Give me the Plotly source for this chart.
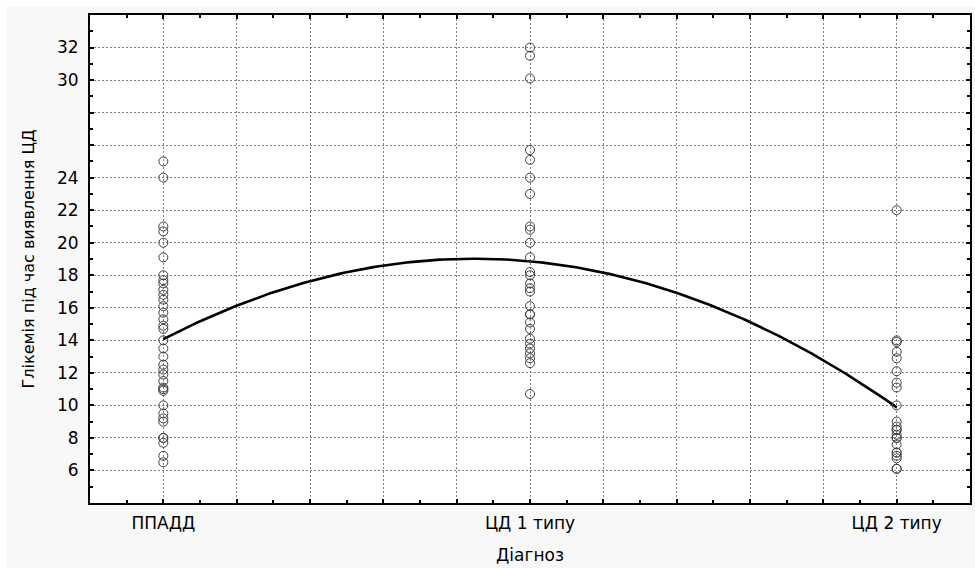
import numpy as np
import plotly.graph_objects as go

# Data
categories = ["ППАДД", "ЦД 1 типу", "ЦД 2 типу"]
cat_pos = [1, 2, 3]

ppadd = [25, 24, 21, 20.7, 20, 19.1, 18, 17.7, 17.5, 17.1, 16.8, 16.5, 16.1, 15.7,
         15.3, 14.9, 14.7, 14, 13.5, 13, 12.5, 12.2, 11.9, 11.5, 11.1, 11.0, 10.9, 10,
         9.5, 9.2, 9, 8, 8.0, 7.7, 6.9, 6.5]
cd1 = [32, 31.5, 30.1, 25.7, 25.1, 24, 23, 21, 20.8, 20, 19.1, 18.2, 18.0, 17.5,
       17.2, 17.0, 16.1, 15.6, 15.6, 15.1, 14.7, 14.1, 13.8, 13.5, 13.2, 12.9, 12.6, 10.7]
cd2 = [22, 14.0, 13.9, 13.3, 12.9, 12.1, 11.4, 11.1, 10.0, 9.0, 8.7, 8.5, 8.5, 8.2,
       8.0, 8.0, 7.6, 7.1, 7.1, 6.9, 6.75, 6.1, 6.1]

y_tick_vals = [6, 8, 10, 12, 14, 16, 18, 20, 22, 24, 26, 28, 30, 32]
y_tick_text = ["6", "8", "10", "12", "14", "16", "18", "20", "22", "24", "", "", "30", "32"]
x_grid_vals = [0.8, 1.0, 1.2, 1.4, 1.6, 1.8, 2.0, 2.2, 2.4, 2.6, 2.8, 3.0, 3.2]
x_tick_text = ["", "ППАДД", "", "", "", "", "ЦД 1 типу", "", "", "", "", "ЦД 2 типу", ""]

groups = [ppadd, cd1, cd2]
xs = np.concatenate([[p] * len(g) for p, g in zip(cat_pos, groups)])
ys = np.concatenate(groups)

# Quadratic least-squares fit (as in the original)
coef = np.polyfit(xs, ys, 2)
xf = np.linspace(1, 3, 200)
yf = np.polyval(coef, xf)

FONT = "DejaVu Sans, Verdana, sans-serif"

fig = go.Figure()
fig.add_trace(go.Scatter(x=xf, y=yf, mode="lines",
                         line=dict(color="black", width=2.6), hoverinfo="skip",
                         showlegend=False))
fig.add_trace(go.Scatter(x=xs, y=ys, mode="markers",
                         marker=dict(symbol="circle-open", size=9, color="#404040",
                                     line=dict(width=1, color="#404040")),
                         showlegend=False))

W, H = 975, 568
L, R, T, B = 90, 5, 15, 65
pw, ph = W - L - R, H - T - B
fig.update_layout(
    width=W, height=H,
    margin=dict(l=L, r=R, t=T, b=B, autoexpand=False),
    paper_bgcolor="white",
    plot_bgcolor="white",
    font=dict(family=FONT, size=16, color="black"),
    shapes=[
        dict(type="rect", xref="paper", yref="paper", layer="below",
             x0=(7 - L) / pw, x1=(W - L) / pw, y0=-B / ph, y1=(H - 7 - B) / ph,
             line=dict(width=0), fillcolor="#f8f8f8"),
        dict(type="rect", xref="paper", yref="paper", layer="below",
             x0=0, x1=1, y0=0, y1=1, line=dict(width=0), fillcolor="white"),
    ],
)
fig.update_xaxes(
    range=[0.8, 3.2], tickmode="array", tickvals=x_grid_vals, ticktext=x_tick_text,
    ticks="inside", ticklen=4, tickwidth=2, tickcolor="black", automargin=False,
    minor=dict(dtick=0.1, tick0=0.8, ticks="inside", ticklen=3, tickwidth=2, tickcolor="black", showgrid=False),
    showgrid=True, gridcolor="#808080", gridwidth=1, griddash="2px,2px",
    showline=True, linecolor="black", linewidth=2, mirror="ticks",
    zeroline=False, tickfont=dict(size=17, family=FONT), ticklabelstandoff=4,
    title=dict(text="Діагноз", font=dict(size=17, family=FONT), standoff=17),
)
fig.update_yaxes(
    range=[4, 34], tickmode="array", tickvals=y_tick_vals, ticktext=y_tick_text,
    ticks="inside", ticklen=4, tickwidth=2, tickcolor="black", automargin=False,
    minor=dict(dtick=1, tick0=4, ticks="inside", ticklen=3, tickwidth=2, tickcolor="black", showgrid=False),
    showgrid=True, gridcolor="#808080", gridwidth=1, griddash="2px,2px",
    showline=True, linecolor="black", linewidth=2, mirror="ticks",
    zeroline=False, tickfont=dict(size=17, family=FONT), ticklabelstandoff=6,
    title=dict(text="Глікемія під час виявлення ЦД", font=dict(size=16, family=FONT), standoff=18),
)

fig.write_html("out.html")
